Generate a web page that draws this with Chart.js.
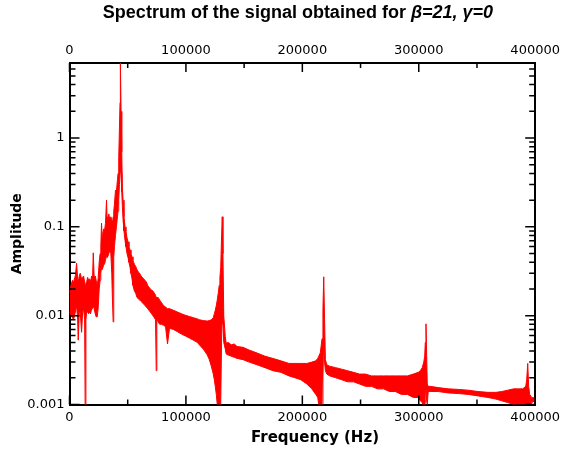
<!DOCTYPE html>
<html>
<head>
<meta charset="utf-8">
<script src="https://cdn.jsdelivr.net/npm/chart.js@4.4.1/dist/chart.umd.min.js"></script>
<style>
  body { margin: 0; background: #fff; }
  #wrap { position: relative; width: 565px; height: 450px; }
  .lbl { position: absolute; transform: translateX(-50%); white-space: nowrap; color: #000; }
  #title { top: 2px; left: 298px; font: bold 18px "Liberation Sans", Arial, sans-serif; line-height: 20px; }
  #xtitle { top: 428px; left: 315px; font: bold 15px "DejaVu Sans", Verdana, sans-serif; line-height: 18px; }
</style>
</head>
<body>
<div id="wrap">
  <canvas id="myChart" width="565" height="450"></canvas>
  <div id="title" class="lbl">Spectrum of the signal obtained for <i>β=21, γ=0</i></div>
  <div id="xtitle" class="lbl">Frequency (Hz)</div>
</div>
<script>
// spectrum: frequency (kHz) with the top and bottom of the noisy trace at each step
var freqKHz = [
  0, 1.3, 2.5, 3.5, 5.0, 6.1, 7.0, 7.5, 8.4, 9.2, 10.4, 11.3, 12.1, 13.0, 13.5, 14.1, 14.7, 15.6, 16.4, 17.3,
  18.1, 19.0, 19.8, 20.4, 21.2, 22.1, 22.9, 23.8, 24.6, 25.5, 26.3, 26.9, 27.5, 28.0, 28.6, 29.5, 30.1, 30.9, 31.8, 32.3,
  32.9, 33.8, 34.6, 35.5, 36.3, 36.9, 37.5, 38.0, 38.6, 39.5, 40.3, 41.2, 41.7, 42.3, 42.9, 43.4, 43.7, 44.3, 44.9, 45.4,
  46.0, 46.8, 47.7, 48.5, 49.4, 50.3, 51.1, 52.0, 52.8, 53.7, 54.5, 55.7, 56.8, 58.0, 59.1, 60.3, 61.4, 62.6, 63.7, 64.8,
  66.0, 67.1, 68.2, 69.4, 70.5, 71.6, 72.8, 73.9, 74.5, 75.0, 76.2, 77.4, 79.1, 80.8, 82.5, 84.2, 85.9, 89.3, 92.7, 96.2,
  99.6, 103.0, 106.4, 109.8, 111.5, 115.0, 118.4, 120.1, 121.8, 123.5, 124.4, 125.2, 126.1, 126.9, 127.8, 128.6, 129.2, 129.9, 130.6, 131.2,
  131.8, 132.5, 133.8, 134.6, 136.4, 138.9, 141.5, 144.0, 149.1, 154.3, 161.1, 167.9, 174.8, 181.6, 188.5, 193.6, 198.7, 203.9, 208.1, 211.5,
  213.2, 214.1, 215.4, 216.1, 216.9, 217.7, 218.4, 219.1, 219.8, 221.0, 223.5, 228.6, 233.8, 238.9, 244.0, 249.1, 254.3, 259.4, 264.5, 269.7,
  274.8, 279.9, 285.0, 290.2, 295.3, 299.6, 301.3, 303.0, 304.3, 305.1, 305.6, 306.2, 306.8, 307.3, 308.1, 309.8, 316.7, 325.3, 333.8, 342.3,
  350.9, 359.4, 366.3, 371.4, 376.5, 381.6, 385.9, 389.3, 391.9, 392.7, 393.6, 394.4, 395.3, 397.0, 399.6
];
var ampHigh = [
  0.018, 0.022, 0.025, 0.024, 0.028, 0.039, 0.026, 0.024, 0.028, 0.03, 0.026, 0.027, 0.028, 0.024, 0.022, 0.023, 0.024, 0.027, 0.025, 0.026,
  0.024, 0.028, 0.026, 0.051, 0.027, 0.028, 0.025, 0.022, 0.026, 0.04, 0.05, 0.06, 0.11, 0.08, 0.085, 0.095, 0.09, 0.11, 0.2, 0.12,
  0.12, 0.14, 0.12, 0.13, 0.12, 0.11, 0.13, 0.15, 0.18, 0.26, 0.25, 0.34, 0.4, 0.6, 1.3, 2.5, 7.0, 2.0, 0.7, 0.28,
  0.2, 0.13, 0.1, 0.09, 0.075, 0.068, 0.06, 0.055, 0.05, 0.046, 0.042, 0.038, 0.036, 0.033, 0.031, 0.03, 0.028, 0.027, 0.026, 0.025,
  0.024, 0.022, 0.021, 0.02, 0.0195, 0.019, 0.018, 0.017, 0.016, 0.016, 0.016, 0.015, 0.014, 0.013, 0.0125, 0.012, 0.012, 0.0115, 0.011, 0.0105,
  0.0101, 0.0098, 0.0095, 0.0092, 0.009, 0.0088, 0.0087, 0.0088, 0.009, 0.0095, 0.0105, 0.0115, 0.013, 0.015, 0.018, 0.022, 0.027, 0.035, 0.075, 0.13,
  0.05, 0.01, 0.0058, 0.0049, 0.005, 0.0047, 0.0048, 0.0045, 0.0044, 0.0041, 0.0038, 0.0035, 0.0033, 0.0031, 0.0029, 0.0029, 0.0029, 0.0029, 0.003, 0.0031,
  0.0033, 0.0035, 0.0038, 0.0045, 0.0055, 0.012, 0.0274, 0.009, 0.0032, 0.0028, 0.0027, 0.0026, 0.0025, 0.0024, 0.0023, 0.0022, 0.0022, 0.0021, 0.0021, 0.0021,
  0.0021, 0.0021, 0.0021, 0.0021, 0.0022, 0.0023, 0.0024, 0.0026, 0.003, 0.0035, 0.005, 0.0081, 0.0035, 0.0017, 0.0016, 0.0016, 0.00155, 0.0015, 0.00148, 0.00145,
  0.0014, 0.00137, 0.00137, 0.0014, 0.00145, 0.0015, 0.0015, 0.0015, 0.0016, 0.0019, 0.0029, 0.0016, 0.0013, 0.0012, 0.00118
];
var ampLow = [
  0.011, 0.01, 0.0095, 0.009, 0.011, 0.013, 0.009, 0.0053, 0.011, 0.011, 0.0065, 0.011, 0.012, 0.009, 0.0007, 0.009, 0.011, 0.011, 0.0105, 0.011,
  0.0105, 0.012, 0.012, 0.013, 0.012, 0.0105, 0.0097, 0.0097, 0.012, 0.02, 0.025, 0.03, 0.035, 0.033, 0.033, 0.038, 0.038, 0.042, 0.048, 0.045,
  0.045, 0.05, 0.055, 0.05, 0.03, 0.015, 0.0085, 0.045, 0.06, 0.08, 0.1, 0.13, 0.15, 0.2, 0.3, 0.4, 0.5, 0.4, 0.25, 0.17,
  0.12, 0.09, 0.07, 0.06, 0.05, 0.045, 0.04, 0.035, 0.03, 0.026, 0.022, 0.019, 0.018, 0.016, 0.0155, 0.015, 0.0145, 0.014, 0.0135, 0.013,
  0.0125, 0.012, 0.0115, 0.011, 0.0105, 0.01, 0.0095, 0.009, 0.0024, 0.009, 0.0085, 0.008, 0.008, 0.0078, 0.0075, 0.0048, 0.0072, 0.007, 0.0066, 0.0062,
  0.0059, 0.0056, 0.0053, 0.005, 0.0047, 0.0042, 0.0036, 0.0032, 0.0027, 0.0022, 0.0019, 0.0016, 0.0013, 0.001, 0.0006, 0.0006, 0.0006, 0.001, 0.005, 0.012,
  0.008, 0.005, 0.0042, 0.0037, 0.0036, 0.0035, 0.0034, 0.0033, 0.0032, 0.003, 0.0028, 0.0026, 0.0024, 0.0023, 0.0021, 0.002, 0.0019, 0.0017, 0.0015, 0.0013,
  0.0012, 0.001, 0.0006, 0.0006, 0.0008, 0.002, 0.006, 0.003, 0.0024, 0.0022, 0.0021, 0.002, 0.0019, 0.0018, 0.0018, 0.0017, 0.0016, 0.0016, 0.0015, 0.0015,
  0.0014, 0.0014, 0.0013, 0.0013, 0.0012, 0.0012, 0.0011, 0.00105, 0.0009, 0.0009, 0.0011, 0.0015, 0.0011, 0.001, 0.0014, 0.0014, 0.0014, 0.00135, 0.00133, 0.0013,
  0.00125, 0.0012, 0.00115, 0.0011, 0.00105, 0.001, 0.00095, 0.0009, 0.0009, 0.0009, 0.001, 0.001, 0.00095, 0.00105, 0.0011
];

var xMajorTicks = [0, 100000, 200000, 300000, 400000];
var xMinorTicks = [50000, 150000, 250000, 350000];
var yMajorTicks = [0.001, 0.01, 0.1, 1];
var yMinorTicks = [0.002, 0.003, 0.004, 0.005, 0.006, 0.007, 0.008, 0.009,
                   0.02, 0.03, 0.04, 0.05, 0.06, 0.07, 0.08, 0.09,
                   0.2, 0.3, 0.4, 0.5, 0.6, 0.7, 0.8, 0.9,
                   2, 3, 4, 5, 6];
var yMin = 0.001, yMax = 7;

function toPoints(arr) {
  return freqKHz.map(function (f, i) { return { x: f * 1000, y: arr[i] }; });
}

// tick marks pointing into the plot on all four sides
var innerTicks = {
  id: "innerTicks",
  afterDraw: function (chart) {
    var ctx = chart.ctx, a = chart.chartArea, s = chart.scales;
    ctx.save();
    ctx.strokeStyle = "#000";
    ctx.lineWidth = 1.5;
    function vtick(v, len) {
      var px = s.x.getPixelForValue(v);
      ctx.beginPath();
      ctx.moveTo(px, a.bottom); ctx.lineTo(px, a.bottom - len);
      ctx.moveTo(px, a.top); ctx.lineTo(px, a.top + len);
      ctx.stroke();
    }
    function htick(v, len) {
      var py = s.y.getPixelForValue(v);
      ctx.beginPath();
      ctx.moveTo(a.left, py); ctx.lineTo(a.left + len, py);
      ctx.moveTo(a.right, py); ctx.lineTo(a.right - len, py);
      ctx.stroke();
    }
    xMajorTicks.forEach(function (v) { vtick(v, 9); });
    xMinorTicks.forEach(function (v) { vtick(v, 5); });
    yMajorTicks.forEach(function (v) { htick(v, 10); });
    yMinorTicks.forEach(function (v) { if (v <= yMax) htick(v, 6); });
    ctx.restore();
  }
};

var tickFont = { family: "DejaVu Sans", size: 13 };
var titleFont = { family: "DejaVu Sans", size: 14, weight: "bold" };
function xLabel(v) { return String(v); }
function xTicks(sc) { sc.ticks = xMajorTicks.map(function (v) { return { value: v }; }); }

new Chart(document.getElementById("myChart").getContext("2d"), {
  type: "line",
  data: {
    datasets: [{
      data: toPoints(ampHigh),
      borderColor: "#ff0000",
      backgroundColor: "#ff0000",
      borderWidth: 1,
      pointRadius: 0,
      tension: 0,
      fill: "+1"
    }, {
      data: toPoints(ampLow),
      borderColor: "#ff0000",
      borderWidth: 1,
      pointRadius: 0,
      tension: 0,
      fill: false
    }]
  },
  options: {
    responsive: false,
    animation: false,
    devicePixelRatio: 1,
    layout: { padding: 0 },
    plugins: { legend: { display: false }, tooltip: { enabled: false } },
    scales: {
      x: {
        type: "linear", position: "bottom", min: 0, max: 400000,
        grid: { display: false, drawTicks: false },
        border: { color: "#000", width: 2 },
        afterBuildTicks: xTicks,
        afterFit: function (sc) { sc.height = 45.5; },
        ticks: { color: "#000", font: tickFont, padding: 5, maxRotation: 0, autoSkip: false, callback: xLabel }
      },
      xTop: {
        type: "linear", position: "top", min: 0, max: 400000,
        grid: { display: false, drawTicks: false },
        border: { color: "#000", width: 2 },
        afterBuildTicks: xTicks,
        afterFit: function (sc) { sc.height = 63; },
        ticks: { color: "#000", font: tickFont, padding: 5, maxRotation: 0, autoSkip: false, callback: xLabel }
      },
      y: {
        type: "logarithmic", position: "left", min: yMin, max: yMax,
        grid: { display: false, drawTicks: false },
        border: { color: "#000", width: 2 },
        afterBuildTicks: function (sc) { sc.ticks = yMajorTicks.map(function (v) { return { value: v }; }); },
        afterFit: function (sc) { sc.width = 69.5; },
        ticks: { color: "#000", font: tickFont, padding: 5, callback: function (v) { return String(v); } },
        title: { display: true, text: "Amplitude", color: "#000", font: titleFont, padding: { top: 9, bottom: 0 } }
      },
      yRight: {
        type: "logarithmic", position: "right", min: yMin, max: yMax,
        grid: { display: false, drawTicks: false },
        border: { color: "#000", width: 2 },
        afterFit: function (sc) { sc.width = 27.5; },
        ticks: { display: false }
      }
    }
  },
  plugins: [innerTicks]
});
</script>
</body>
</html>
